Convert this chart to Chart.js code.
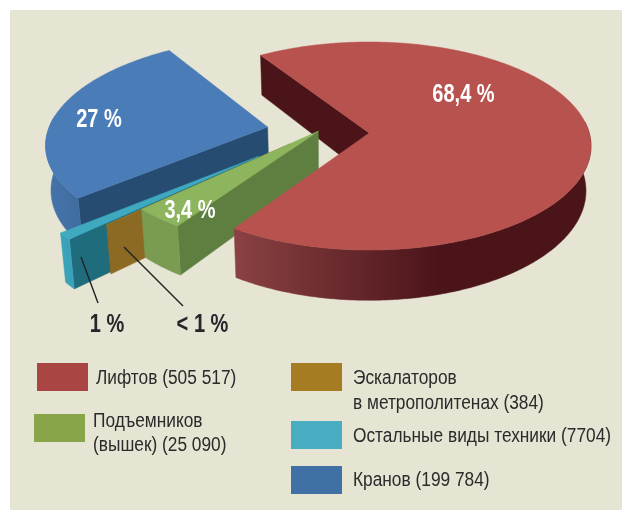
<!DOCTYPE html>
<html lang="ru">
<head>
<meta charset="utf-8">
<title>Chart</title>
<style>html,body{margin:0;padding:0;background:#fff}canvas{display:block}</style>
<script src="https://cdn.jsdelivr.net/npm/chart.js@4"></script>
</head>
<body>
<canvas id="c" width="622" height="510"></canvas>
<script>
// ---- data ----
const categories = ['Лифтов', 'Подъемников (вышек)', 'Эскалаторов в метрополитенах', 'Остальные виды техники', 'Кранов'];
const counts = [505517, 25090, 384, 7704, 199784];
const percentLabels = ['68,4 %', '3,4 %', '< 1 %', '1 %', '27 %'];
const legendLines = [['Лифтов (505 517)'], ['Подъемников', '(вышек) (25 090)'], ['Эскалаторов', 'в метрополитенах (384)'], ['Остальные виды техники (7704)'], ['Кранов (199 784)']];

// ---- style ----
const topColors = ['#B8524F', '#8DB55E', '#9A7426', '#3FA9C0', '#4A7DB8'];
const swatchColors = ['#A94644', '#89A54A', '#A67C22', '#48ADC1', '#3F70A6'];
const sideColors = ['#4A1419', '#5F7F41', '#8C6A24', '#1F6C7C', '#264C72'];
const wallColors = [['#8A4143', '#4A1419'], ['#7FA257', '#7A9C52'], ['#8C6A24', '#8C6A24'], ['#3BA5BC', '#38A0B6'], ['#4675AC', '#3E6A9C']];
const explode = [[.01, 0], [-.222, -.018], [-.347, .108], [-.48, .222], [-.455, -.058]];
const drawOrder = [4, 3, 2, 1, 0];
const view = {cx: 367, cy: 133, fx: 220, fy: 102.4, k: .125, depth: 44, vx: 328, shrink: .981};
const labelPos = [[463.5, 102], [190, 218], [202.5, 332], [107, 332], [99, 127]];
const labelColor = ['#fff', '#fff', '#26262a', '#26262a', '#fff'];
const leaders = [null, null, [[124, 247], [183, 306]], [[81, 257], [98, 303]], null];
const swatches = [[37, 363], [34, 414], [291, 363], [291, 421], [291, 466]];
const legendText = [[96, [384]], [93, [427, 451]], [353, [384, 409]], [353, [442]], [353, [486]]];
const FONT = '"Liberation Sans",Arial,sans-serif';

function P(X, Y, z) {
  const w = 1 / (1 - view.k * Y);
  let sx = view.cx + view.fx * X * w;
  let sy = view.cy + view.fy * Y * w + z * view.depth * w;
  if (z) sx = view.vx + (sx - view.vx) * view.shrink;
  return [sx, sy];
}
function rim(i, a, b, frontOnly) {
  const pts = [], n = Math.max(2, Math.ceil(Math.abs(b - a) / .01));
  for (let j = 0; j <= n; j++) {
    const t = a + (b - a) * j / n;
    if (frontOnly && Math.sin(t) < -.12) continue;
    pts.push([explode[i][0] + Math.cos(t), explode[i][1] + Math.sin(t)]);
  }
  return pts;
}
function fillPoly(ctx, pts, color) {
  ctx.beginPath();
  pts.forEach((p, j) => j ? ctx.lineTo(p[0], p[1]) : ctx.moveTo(p[0], p[1]));
  ctx.closePath();
  ctx.fillStyle = color;
  ctx.fill();
  ctx.strokeStyle = color;
  ctx.lineWidth = .5;
  ctx.stroke();
}
function sideFace(ctx, i, a) {
  const o = explode[i], e = [o[0] + Math.cos(a), o[1] + Math.sin(a)];
  fillPoly(ctx, [P(o[0], o[1], 0), P(e[0], e[1], 0), P(e[0], e[1], 1), P(o[0], o[1], 1)], sideColors[i]);
}
function wall(ctx, i, a, b) {
  const r = rim(i, a, b, true);
  if (r.length < 2) return;
  const poly = r.map(p => P(p[0], p[1], 0)).concat(r.slice().reverse().map(p => P(p[0], p[1], 1)));
  const g = ctx.createLinearGradient(i === 0 ? 236 : 45, 0, i === 0 ? 440 : 90, 0);
  g.addColorStop(0, wallColors[i][0]);
  g.addColorStop(1, wallColors[i][1]);
  fillPoly(ctx, poly, g);
}
function topFace(ctx, i, a, b) {
  const o = explode[i];
  const poly = [P(o[0], o[1], 0)].concat(rim(i, a, b, false).map(p => P(p[0], p[1], 0)));
  fillPoly(ctx, poly, topColors[i]);
}
function text(ctx, str, x, y, sx) {
  ctx.save();
  ctx.translate(x, y);
  ctx.scale(sx, 1);
  ctx.fillText(str, 0, 0);
  ctx.restore();
}

const pie3d = {
  id: 'pie3d',
  beforeDraw(chart) {
    const ctx = chart.ctx;
    ctx.save();
    ctx.fillStyle = '#fff';
    ctx.fillRect(0, 0, 622, 510);
    ctx.fillStyle = '#E6E4D3';
    ctx.fillRect(10, 10, 612, 500);
    ctx.restore();
  },
  beforeDatasetDraw(chart) {
    const ctx = chart.ctx, arcs = chart.getDatasetMeta(0).data;
    const ang = arcs.map(a => a.getProps(['startAngle', 'endAngle'], true));
    ctx.save();
    sideFace(ctx, 0, ang[0].startAngle);
    drawOrder.forEach(i => {
      const s = ang[i].startAngle, e = ang[i].endAngle;
      if (i !== 0) sideFace(ctx, i, s);
      wall(ctx, i, s, e);
      topFace(ctx, i, s, e);
    });
    ctx.restore();
    return false;
  },
  afterDatasetsDraw(chart) {
    const ctx = chart.ctx;
    ctx.save();
    ctx.textBaseline = 'alphabetic';
    ctx.textAlign = 'center';
    leaders.forEach(l => {
      if (!l) return;
      ctx.beginPath();
      ctx.moveTo(l[0][0], l[0][1]);
      ctx.lineTo(l[1][0], l[1][1]);
      ctx.strokeStyle = '#222';
      ctx.lineWidth = 1.4;
      ctx.stroke();
    });
    ctx.font = 'bold 26px ' + FONT;
    percentLabels.forEach((t, i) => {
      ctx.fillStyle = labelColor[i];
      text(ctx, t, labelPos[i][0], labelPos[i][1], .77);
    });
    ctx.textAlign = 'left';
    ctx.font = '20px ' + FONT;
    categories.forEach((c, i) => {
      ctx.fillStyle = swatchColors[i];
      ctx.fillRect(swatches[i][0], swatches[i][1], 51, 28);
      ctx.fillStyle = '#2b2b2b';
      legendLines[i].forEach((line, j) => text(ctx, line, legendText[i][0], legendText[i][1][j], .865));
    });
    ctx.restore();
  }
};

new Chart(document.getElementById('c'), {
  type: 'pie',
  data: {labels: categories, datasets: [{data: counts, backgroundColor: topColors, borderWidth: 0}]},
  options: {
    responsive: false,
    animation: false,
    rotation: -33,
    plugins: {legend: {display: false}, tooltip: {enabled: false}}
  },
  plugins: [pie3d]
});
</script>
</body>
</html>
